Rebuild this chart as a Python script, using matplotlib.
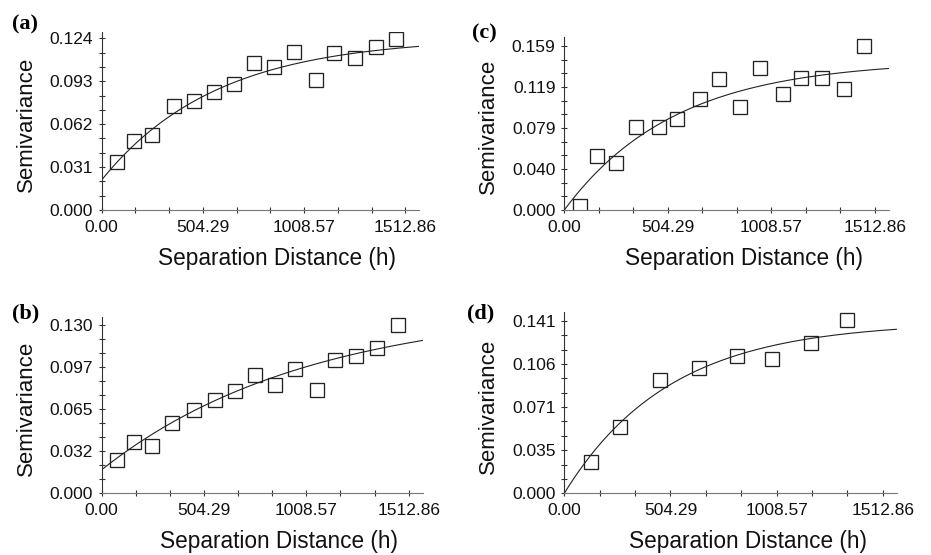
import numpy as np
import matplotlib
matplotlib.use("Agg")
import matplotlib.pyplot as plt
from matplotlib.ticker import FixedLocator, AutoMinorLocator

# ── Data ──────────────────────────────────────────────────────
# (a)
lag_a = [75, 161, 250, 358, 458, 557, 657, 757, 857, 957, 1065, 1157, 1262, 1365, 1465]
gamma_a = [0.0349, 0.0498, 0.0542, 0.0751, 0.0787, 0.0850, 0.0908, 0.1064,
           0.1035, 0.1139, 0.0939, 0.1132, 0.1096, 0.1175, 0.1235]
# (b)
lag_b = [74, 159, 246, 347, 454, 557, 656, 754, 854, 954, 1060, 1152, 1254, 1357, 1460]
gamma_b = [0.0260, 0.0398, 0.0364, 0.0546, 0.0642, 0.0720, 0.0788, 0.0910,
           0.0837, 0.0957, 0.0798, 0.1027, 0.1061, 0.1126, 0.1300]
# (c)
lag_c = [76, 161, 250, 350, 459, 548, 659, 756, 854, 955, 1064, 1155, 1256, 1362, 1462]
gamma_c = [0.0039, 0.0527, 0.0452, 0.0802, 0.0802, 0.0882, 0.1073, 0.1270,
           0.0995, 0.1380, 0.1121, 0.1283, 0.1283, 0.1173, 0.1590]
# (d)
lag_d = [125, 264, 457, 640, 820, 987, 1170, 1342]
gamma_d = [0.0259, 0.0545, 0.0927, 0.1023, 0.1124, 0.1099, 0.1227, 0.1418]

# exponential model fits: nugget, sill, range parameter
model_a = (0.0217, 0.1247, 572)
model_b = (0.0182, 0.1450, 1021)
model_c = (0.0, 0.1450, 540)
model_d = (0.0, 0.1400, 500)

xtick_vals = [0.0, 504.29, 1008.57, 1512.86]
xtick_labels = ["0.00", "504.29", "1008.57", "1512.86"]

ytick_a = [0.0, 0.031, 0.062, 0.093, 0.124]
ylab_a = ["0.000", "0.031", "0.062", "0.093", "0.124"]
ytick_b = [0.0, 0.0325, 0.065, 0.0975, 0.130]
ylab_b = ["0.000", "0.032", "0.065", "0.097", "0.130"]
ytick_c = [0.0, 0.03975, 0.0795, 0.11925, 0.159]
ylab_c = ["0.000", "0.040", "0.079", "0.119", "0.159"]
ytick_d = [0.0, 0.03525, 0.0705, 0.10575, 0.141]
ylab_d = ["0.000", "0.035", "0.071", "0.106", "0.141"]

x_max = 1582
y_max = {"a": 0.1288, "b": 0.1364, "c": 0.168, "d": 0.1484}

plt.rcParams['font.family'] = ['Liberation Sans', 'DejaVu Sans']

W, H = 931, 555
fig = plt.figure(figsize=(W / 100, H / 100), dpi=100)

# axes boxes in pixels: left, top, right, bottom
boxes = {
    "a": (101.7, 31.7, 419.3, 210.0),
    "c": (564.3, 36.7, 889.0, 210.0),
    "b": (101.7, 316.7, 422.7, 493.3),
    "d": (564.3, 311.7, 897.3, 493.3),
}
panels = {
    "a": (lag_a, gamma_a, model_a, ytick_a, ylab_a),
    "b": (lag_b, gamma_b, model_b, ytick_b, ylab_b),
    "c": (lag_c, gamma_c, model_c, ytick_c, ylab_c),
    "d": (lag_d, gamma_d, model_d, ytick_d, ylab_d),
}

for key, (lags, gam, model, yt, yl) in panels.items():
    l, t, r, b = boxes[key]
    ax = fig.add_axes([l / W, 1 - b / H, (r - l) / W, (b - t) / H])

    nug, sill, rng = model
    h = np.linspace(0, x_max, 400)
    ax.plot(h, nug + (sill - nug) * (1 - np.exp(-h / rng)), color='#222222', lw=0.8)
    ax.plot(lags, gam, 's', ms=9.6, mfc='none', mec='#222222', mew=0.95)

    ax.set_xlim(0, x_max)
    ax.set_ylim(0, y_max[key])
    ax.xaxis.set_major_locator(FixedLocator(xtick_vals))
    ax.set_xticklabels(xtick_labels)
    ax.yaxis.set_major_locator(FixedLocator(yt))
    ax.set_yticklabels(yl)
    ax.xaxis.set_minor_locator(AutoMinorLocator(3))
    ax.yaxis.set_minor_locator(AutoMinorLocator(3))

    for s in ['top', 'right']:
        ax.spines[s].set_visible(False)
    ax.spines['left'].set_color('#333333')
    ax.spines['bottom'].set_color('#777777')
    ax.spines['left'].set_linewidth(0.8)
    ax.spines['bottom'].set_linewidth(0.8)
    ax.tick_params(which='both', direction='inout', length=4.5, width=0.8,
                   colors='#333333', labelcolor='#111111', labelsize=12.5)
    ax.tick_params(axis='x', pad=5)
    ax.tick_params(axis='y', pad=4)

    ax.set_xlabel("Separation Distance (h)", fontsize=16.3, color='#111111')
    ax.set_ylabel("Semivariance", fontsize=16, color='#111111')
    ax.xaxis.set_label_coords(0.553, -37 / (b - t))
    ax.yaxis.set_label_coords(-65 / (r - l), 0.48)
    ax.set_facecolor('none')

# panel letters
letters = {"a": (12, 14), "c": (472, 23), "b": (12, 303), "d": (467, 303)}
for key, (px, py) in letters.items():
    fig.text(px / W, 1 - py / H, "(" + key + ")", fontsize=16, fontweight='bold',
             family=['Liberation Serif', 'DejaVu Serif'], va='top', ha='left')

fig.savefig("out.png", dpi=100)
